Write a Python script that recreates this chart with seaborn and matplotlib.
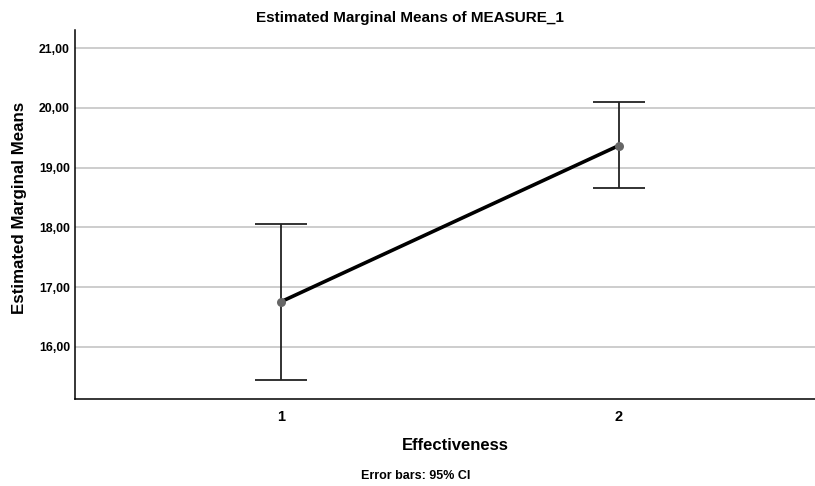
import matplotlib
matplotlib.use('Agg')
import matplotlib.pyplot as plt
from matplotlib.ticker import FuncFormatter
import seaborn as sns
import pandas as pd

# values
levels = [1, 2]
means = [16.76, 19.37]
ci_low = [15.44, 18.66]
ci_high = [18.06, 20.09]

sns.set_style('white')
plt.rcParams['font.family'] = ['Liberation Sans', 'DejaVu Sans']
plt.rcParams['font.weight'] = 'bold'
for k in ['text.color', 'axes.labelcolor', 'xtick.color', 'ytick.color']:
    plt.rcParams[k] = 'black'

df = pd.DataFrame({'Effectiveness': levels, 'mean': means})

fig = plt.figure(figsize=(8.15, 4.86), dpi=100)
ax = fig.add_axes([0.0926, 0.179, 0.907, 0.759])

# error bars (95% CI)
yerr = [[m - lo for m, lo in zip(means, ci_low)],
        [hi - m for m, hi in zip(means, ci_high)]]
ax.errorbar(levels, means, yerr=yerr, fmt='none', ecolor='#222222',
            elinewidth=1.3, capsize=18.5, capthick=1.3, zorder=2)

sns.lineplot(data=df, x='Effectiveness', y='mean', ax=ax, color='black',
             linewidth=2.6, zorder=3)
ax.scatter(levels, means, s=42, color='#666666', zorder=4, linewidths=0)

ax.set_xlim(0.39, 2.58)
ax.set_ylim(15.13, 21.3)
ax.set_xticks(levels)
ax.set_xticklabels([str(v) for v in levels], fontsize=10.5, fontweight='bold')
ax.set_yticks([16, 17, 18, 19, 20, 21])
ax.yaxis.set_major_formatter(FuncFormatter(lambda v, p: ('%.2f' % v).replace('.', ',')))
for lab in ax.get_yticklabels():
    lab.set_fontsize(8.8)
    lab.set_fontweight('bold')
ax.tick_params(axis='both', length=0)
ax.tick_params(axis='y', pad=4)
ax.tick_params(axis='x', pad=8)

ax.grid(axis='y', color='#c0c0c0', linewidth=1.1)
ax.set_axisbelow(True)
for s in ['top', 'right']:
    ax.spines[s].set_visible(False)
for s in ['left', 'bottom']:
    ax.spines[s].set_color('black')
    ax.spines[s].set_linewidth(1.1)

ax.set_xlabel('Effectiveness', fontsize=12, fontweight='bold')
ax.xaxis.set_label_coords(0.514, -0.106)
ax.set_ylabel('Estimated Marginal Means', fontsize=12.2, fontweight='bold')
ax.yaxis.set_label_coords(-0.066, 0.519)
fig.text(0.503, 0.962, 'Estimated Marginal Means of MEASURE_1', fontsize=11,
         fontweight='bold', ha='center', va='center')

fig.text(0.51, 0.015, 'Error bars: 95% CI', fontsize=9, fontweight='bold', ha='center')

fig.savefig('out.png', dpi=100)
